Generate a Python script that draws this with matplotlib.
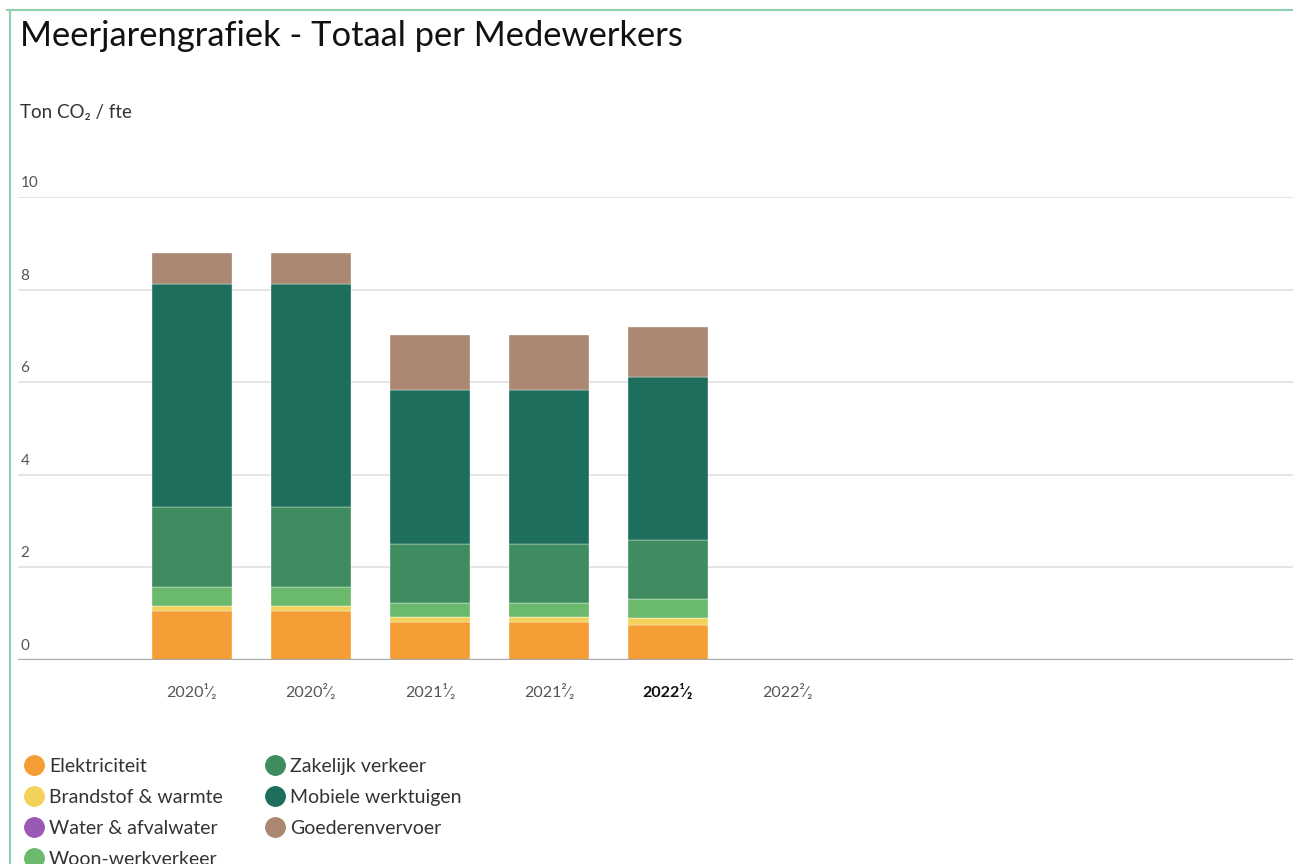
import matplotlib
matplotlib.use("Agg")
import matplotlib.pyplot as plt
from matplotlib.lines import Line2D
import numpy as np

plt.rcParams['font.family'] = ['Lato', 'DejaVu Sans']

periods = ["2020¹⁄₂", "2020²⁄₂", "2021¹⁄₂", "2021²⁄₂", "2022¹⁄₂", "2022²⁄₂"]
series_names = ["Elektriciteit", "Brandstof & warmte", "Water & afvalwater",
                "Woon-werkverkeer", "Zakelijk verkeer", "Mobiele werktuigen",
                "Goederenvervoer"]
elektriciteit = [1.06, 1.06, 0.82, 0.82, 0.76, 0.0]
brandstof = [0.11, 0.11, 0.11, 0.11, 0.15, 0.0]
water = [0.0, 0.0, 0.0, 0.0, 0.0, 0.0]
woon_werk = [0.41, 0.41, 0.30, 0.30, 0.41, 0.0]
zakelijk = [1.72, 1.72, 1.28, 1.28, 1.27, 0.0]
mobiele = [4.82, 4.82, 3.32, 3.32, 3.52, 0.0]
goederen = [0.67, 0.67, 1.19, 1.19, 1.08, 0.0]
y_ticks = [0, 2, 4, 6, 8, 10]

colors = ["#F59E35", "#F2D25A", "#9B59B6", "#6BB96D", "#3E8C5F", "#1E6E5E", "#AB8871"]
data = [elektriciteit, brandstof, water, woon_werk, zakelijk, mobiele, goederen]

fig = plt.figure(figsize=(12.93, 8.64), dpi=100)
ax = fig.add_axes([18/1293, (864-660)/864, 1 - 18/1293, (660-197)/864])

x = np.arange(len(periods))
bottom = np.zeros(len(periods))
for vals, col, name in zip(data, colors, series_names):
    v = np.array(vals)
    ax.bar(x, v, bottom=bottom, width=0.67, color=col, edgecolor='white',
           linewidth=0.25, zorder=3, label=name)
    bottom += v

ax.set_xlim(-1.46, 9.25)
ax.set_ylim(0, 10)
for t in y_ticks[1:]:
    ax.axhline(t, color="#e3e3e3", linewidth=1.3, zorder=1)
ax.axhline(0, color="#a8a8a8", linewidth=1.6, zorder=4)
for t in y_ticks:
    ax.text(0.002, t + 0.15, str(t), transform=ax.get_yaxis_transform(),
            ha='left', va='bottom', fontsize=11, color="#555555", clip_on=False)

for s in ax.spines.values():
    s.set_visible(False)
ax.set_yticks([])
ax.set_xticks(x)
ax.set_xticklabels(periods, fontsize=11.5, color="#555555",
                   family=['Lato', 'DejaVu Sans'])
ax.tick_params(axis='x', length=0, pad=17)
lbls = ax.get_xticklabels()
lbls[4].set_fontweight('bold')
lbls[4].set_color('#111111')

fig.text(20/1293, 1 - 36/864, "Meerjarengrafiek - Totaal per Medewerkers",
         fontsize=24.8, color="#111111", ha='left', va='center')
fig.text(20/1293, 1 - 112/864, "Ton CO₂ / fte", fontsize=13.5, color="#333333",
         ha='left', va='center', family=['Lato', 'DejaVu Sans'])

handles = [Line2D([0], [0], marker='o', linestyle='None', markersize=14,
                  markerfacecolor=c, markeredgecolor=c) for c in colors]
fig.legend(handles, series_names, loc='upper left', ncol=2,
           bbox_to_anchor=(15/1293, 1 - 750/864), frameon=False,
           fontsize=14, handletextpad=0.15, columnspacing=2.1,
           labelspacing=0.72, handlelength=1.2, borderaxespad=0,
           labelcolor="#333333")

# panel border (top and left)
fig.add_artist(Line2D([7/1293, 1], [1 - 9.5/864, 1 - 9.5/864], color="#8fd0b0",
                      linewidth=1.5, transform=fig.transFigure))
fig.add_artist(Line2D([9.5/1293, 9.5/1293], [0, 1 - 9.5/864], color="#8fd0b0",
                      linewidth=1.5, transform=fig.transFigure))

fig.savefig("out.png", dpi=100)
